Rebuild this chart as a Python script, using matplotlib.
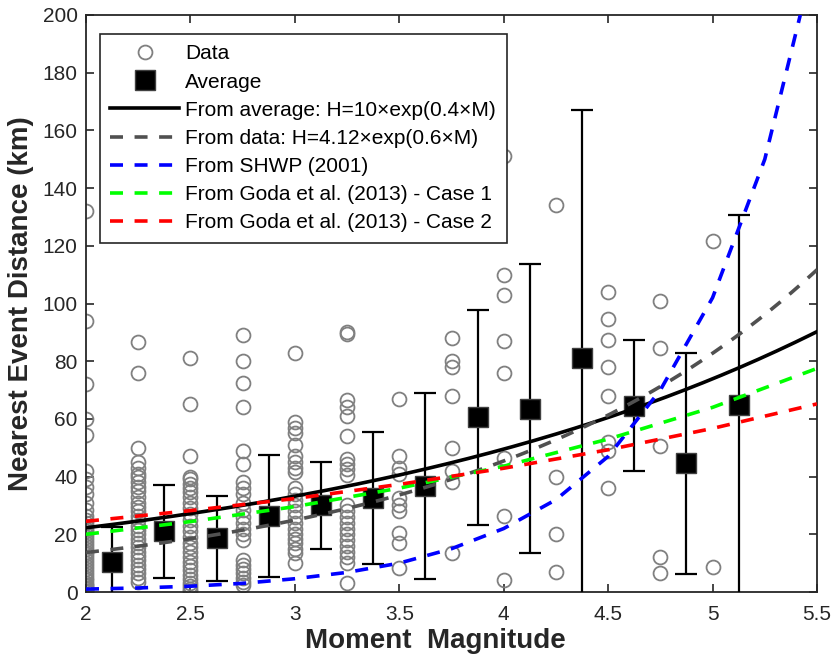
import matplotlib.pyplot as plt
import numpy as np
from matplotlib.lines import Line2D

plt.rcParams['font.family'] = ['Liberation Sans', 'DejaVu Sans']

# nearest event distance (km) for each magnitude column
data_m = [2.0, 2.25, 2.5, 2.75, 3.0, 3.25, 3.5, 3.75, 4.0, 4.25, 4.5, 4.75, 5.0]
data_h = [
    [132, 94, 72, 60, 54.5, 42, 39, 36.5, 34, 31, 28.5, 26.5, 25, 24, 23, 22, 21, 20,
     19, 18, 17, 16, 15, 14, 13, 12, 11, 10, 9, 8, 7, 6, 5, 4, 3, 2.5, 2, 1.5, 1, 0.5, 0.2],
    [86.5, 76, 50, 45, 43, 41, 40, 38, 36.5, 35, 33, 31, 29.5, 28, 26.5, 25, 23, 21.5,
     20, 18.5, 17, 15.5, 14, 12.5, 11, 9.5, 8, 6.5, 5, 3.5],
    [81, 65, 47, 40, 39, 37.5, 36, 34.5, 33, 31, 29, 27, 25, 23, 21, 19, 17, 15.5, 14,
     12, 10.5, 9, 7.5, 6, 4.5, 3, 2, 1, 0.5],
    [89, 80, 72.5, 64, 49, 44.5, 38, 36, 34, 31, 28.5, 26, 24, 22, 20, 18, 11, 9.5, 8,
     6.5, 5, 3.5, 2.4],
    [83, 59, 57, 55, 51, 47, 45, 43, 41.5, 36, 34, 32, 30, 28, 26, 24, 22, 20, 18.5, 17,
     15, 13.5, 10],
    [90, 89.5, 66.5, 64, 61, 54, 46, 44.5, 42.5, 40.5, 30, 28, 26, 24, 22, 20, 18, 16,
     14, 12, 10, 3],
    [67, 47, 43, 41, 32.5, 30, 28, 20.5, 17, 8.3],
    [88, 80, 78, 68, 50, 42, 38, 13.5],
    [151, 110, 103, 87, 76, 46.5, 26.5, 4],
    [134, 40, 20, 7],
    [104, 94.5, 87.5, 78, 68, 52, 49, 36],
    [101, 84.5, 50.5, 12, 6.7],
    [121.5, 8.5],
]

# binned averages and standard deviations
avg_m = [2.125, 2.375, 2.625, 2.875, 3.125, 3.375, 3.625, 3.875, 4.125, 4.375, 4.625, 4.875, 5.125]
avg_h = [10.5, 21.0, 18.6, 26.4, 30.0, 32.6, 36.8, 60.5, 63.6, 81.2, 64.5, 44.7, 64.8]
avg_sd = [12.1, 16.0, 14.8, 21.1, 15.2, 22.9, 32.2, 37.3, 50.0, 85.8, 22.7, 38.3, 66.0]

# fitted relations H = a * exp(b * M)
fit_avg = (10.0, 0.4)
fit_data = (4.12, 0.6)

# published relations
shwp_m = [2.0, 2.25, 2.5, 2.75, 3.0, 3.25, 3.5, 3.75, 4.0, 4.25, 4.5, 4.75, 5.0, 5.25, 5.42]
shwp_h = [1.0, 1.4, 2.0, 3.0, 4.6, 6.8, 10, 15, 22, 32, 47, 70, 102, 150, 200]
goda_m = [2.0, 2.5, 3.0, 3.5, 4.0, 4.5, 5.0, 5.5]
goda1_h = [20.0, 24.4, 29.6, 36.0, 43.6, 53.0, 64.0, 77.5]
goda2_h = [24.5, 28.2, 32.4, 37.3, 42.9, 49.3, 56.7, 65.2]

fig = plt.figure(figsize=(8.31, 6.64), dpi=100)
ax = fig.add_axes([86 / 831, 1 - 592 / 664, 731 / 831, 577 / 664])

xs = np.repeat(data_m, [len(h) for h in data_h])
ys = np.concatenate([np.asarray(h, float) for h in data_h])
ax.plot(xs, ys, 'o', ms=10, mfc='none', mec='#808080', mew=1.3, zorder=2)

ax.errorbar(avg_m, avg_h, yerr=avg_sd, fmt='none', ecolor='k', elinewidth=1.6,
            capsize=8, capthick=1.6, zorder=3)
ax.plot(avg_m, avg_h, 's', ms=14, mfc='k', mec='#404040', mew=1, zorder=3)

mm = np.linspace(2, 5.5, 200)
dash = (3.6, 3.2)
ax.plot(mm, fit_avg[0] * np.exp(fit_avg[1] * mm), '-', color='k', lw=2.6, zorder=4)
ax.plot(mm, fit_data[0] * np.exp(fit_data[1] * mm), '--', color='#505050', lw=2.6,
        dashes=dash, zorder=4)
ax.plot(shwp_m, shwp_h, '--', color='#0000ff', lw=2.6, dashes=dash, zorder=4)
ax.plot(goda_m, goda1_h, '--', color='#00ff00', lw=2.6, dashes=dash, zorder=4)
ax.plot(goda_m, goda2_h, '--', color='#ff0000', lw=2.6, dashes=dash, zorder=4)

ax.set_xlim(2, 5.5)
ax.set_ylim(0, 200)
ax.set_xticks([2, 2.5, 3, 3.5, 4, 4.5, 5, 5.5])
ax.set_xticklabels(['2', '2.5', '3', '3.5', '4', '4.5', '5', '5.5'])
ax.set_yticks(range(0, 201, 20))
ax.tick_params(direction='in', top=True, right=True, length=6, width=1.2,
               labelsize=15, colors='#262626')
ax.tick_params(axis='x', pad=9)
ax.tick_params(axis='y', pad=6)
for s in ax.spines.values():
    s.set_linewidth(1.3)
    s.set_color('#262626')

ax.set_xlabel('Moment  Magnitude', fontsize=20, fontweight='bold', color='#262626')
ax.xaxis.set_label_coords(0.478, -0.062, transform=ax.transAxes)
ax.xaxis.label.set_va('top')
ax.set_ylabel('Nearest Event Distance (km)', fontsize=20, fontweight='bold',
              color='#262626', labelpad=6)

handles = [
    Line2D([], [], ls='none', marker='o', ms=10, mfc='none', mec='#808080', mew=1.3),
    Line2D([], [], ls='none', marker='s', ms=14, mfc='k', mec='#404040', mew=1),
    Line2D([], [], color='k', lw=2.6),
    Line2D([], [], color='#505050', lw=2.6, ls='--', dashes=dash),
    Line2D([], [], color='#0000ff', lw=2.6, ls='--', dashes=dash),
    Line2D([], [], color='#00ff00', lw=2.6, ls='--', dashes=dash),
    Line2D([], [], color='#ff0000', lw=2.6, ls='--', dashes=dash),
]
labels = [
    'Data',
    'Average',
    'From average: H=10×exp(0.4×M)',
    'From data: H=4.12×exp(0.6×M)',
    'From SHWP (2001)',
    'From Goda et al. (2013) - Case 1',
    'From Goda et al. (2013) - Case 2',
]
leg = ax.legend(handles, labels, loc='upper left', bbox_to_anchor=(14 / 731, 1 - 19 / 577),
                borderaxespad=0, fontsize=15, handlelength=3.3, handletextpad=0.3,
                labelspacing=0.44, fancybox=False, framealpha=1, edgecolor='#262626',
                borderpad=0.5)
leg.get_frame().set_linewidth(1.2)
leg.set_zorder(10)

fig.savefig('out.png', dpi=100)
